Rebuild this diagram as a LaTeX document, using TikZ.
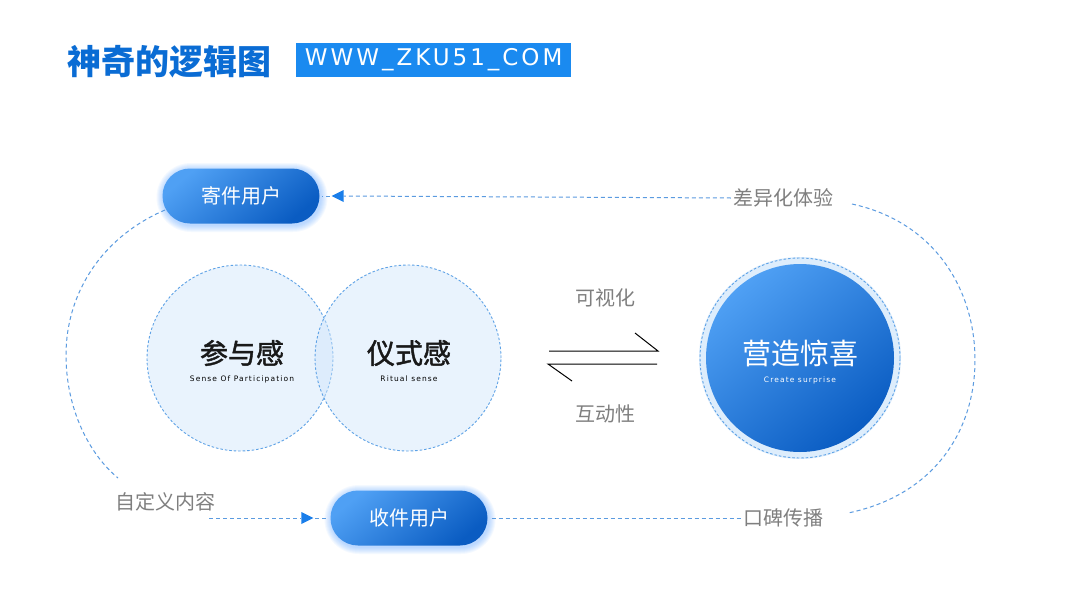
\documentclass[tikz,border=0pt]{standalone}
\usepackage{fontspec}
\newfontfamily\cjk{Noto Sans CJK SC}
\newfontfamily\cjkm[FakeBold=1.6]{Noto Sans CJK SC}
\newfontfamily\urlfont[LetterSpace=13]{DejaVu Sans}
\newfontfamily\latsm[LetterSpace=15]{DejaVu Sans}
\usetikzlibrary{arrows.meta,backgrounds,shapes.misc}
\definecolor{titleblue}{HTML}{0A6CD4}
\definecolor{urlblue}{HTML}{1A8AF0}
\definecolor{dashblue}{HTML}{5B9BE0}
\definecolor{lblgray}{HTML}{7F7F7F}
\definecolor{pilltop}{HTML}{4FA0F4}
\definecolor{pillbot}{HTML}{0A5CC2}
\definecolor{glowc}{HTML}{3C93FF}
\definecolor{arrowblue}{HTML}{1A7EEA}
\definecolor{circfill}{HTML}{CFE5FB}
\definecolor{circline}{HTML}{5EA2E6}
\tikzset{
  pill/.style={rounded rectangle, minimum width=157pt, minimum height=55pt,
    inner sep=0pt, top color=pilltop, bottom color=pillbot, shading angle=40,
    text=white, font=\cjk\fontsize{20}{24}\selectfont},
  glowshape/.style={rounded rectangle, inner sep=0pt, fill=glowc, fill opacity=0.055, draw=none},
  lbl/.style={text=lblgray, font=\cjk\fontsize{20}{24}\selectfont, inner sep=2pt},
  dashln/.style={draw=dashblue, line width=1pt, dash pattern=on 4pt off 3pt},
  ring/.style={circle, draw=circline, line width=0.9pt, dash pattern=on 2.5pt off 2pt,
    fill=circfill, fill opacity=0.45, text opacity=1, minimum size=186pt, inner sep=0pt},
  tipfill/.style={fill=arrowblue}
}
\begin{document}
\begin{tikzpicture}[x=1pt,y=-1pt]
\useasboundingbox (0,0) rectangle (1080,608);

% title
\node[anchor=west, inner sep=0pt, text=titleblue, font=\cjk\bfseries\fontsize{34}{37}\selectfont] (title) at (67,62) {神奇的逻辑图};
\node[anchor=west, fill=urlblue, minimum width=275pt, minimum height=34pt, inner sep=0pt,
  text=white, font=\urlfont\fontsize{23}{26}\selectfont] (url) at (296,60) {WWW\_ZKU51\_COM};

% pills
\node[pill] (send) at (241,196) {寄件用户};
\node[pill] (recv) at (409,518) {收件用户};
\begin{scope}[on background layer]
  \fill[white] (0,0) rectangle (1080,608);
  \foreach \p in {send,recv}{
    \foreach \w in {2,4,...,14}{
      \node[glowshape, minimum width={157pt+\w pt}, minimum height={55pt+\w pt}] at ([xshift=1pt,yshift=-1.5pt]\p.center) {};
    }
  }
\end{scope}

% labels
\node[lbl] (diff) at (783,198) {差异化体验};
\node[lbl] (word) at (783,518) {口碑传播};
\node[lbl] (cust) at (165,502) {自定义内容};
\node[lbl] (vis) at (605,298) {可视化};
\node[lbl] (inter) at (605,414) {互动性};

% circles
\node[ring] (part) at (240,358) {};
\node[ring] (ritu) at (408,358) {};
\node[font=\cjkm\fontsize{28}{30}\selectfont, text=black!90] (partt) at (242,353) {参与感};
\node[font=\latsm\fontsize{7.5}{9}\selectfont, text=black] (parts) at (242,379) {Sense Of Participation};
\node[font=\cjkm\fontsize{28}{30}\selectfont, text=black!90] (rituat) at (409,353) {仪式感};
\node[font=\latsm\fontsize{7.5}{9}\selectfont, text=black] (rituas) at (409,379) {Ritual sense};

% big circle
\fill[circfill!70!white] (800,358) circle (101pt);
\draw[circline, line width=0.9pt, dash pattern=on 2.5pt off 2pt] (800,358) circle (100pt);
\node[circle, minimum size=188pt, inner sep=0pt, top color=pilltop, bottom color=pillbot, shading angle=40] (surp) at (800,358) {};
\node[font=\cjk\fontsize{29}{32}\selectfont, text=white] (surpt) at (800,353) {营造惊喜};
\node[font=\latsm\fontsize{7.5}{9}\selectfont, text=white] (surps) at (800,380) {Create surprise};

% harpoons
\coordinate (h1a) at (549,351); \coordinate (h1b) at (658,351); \coordinate (h1c) at (635,333);
\coordinate (h2a) at (548,364); \coordinate (h2b) at (657,364); \coordinate (h2c) at (572,381);
\draw[black, line width=1pt] (h1a) -- (h1b) -- (h1c);
\draw[black, line width=1pt] (h2b) -- (h2a) -- (h2c);

% connectors
\draw[dashln] (diff.west) -- ([xshift=24pt]send.east);
\fill[tipfill] ([xshift=12pt]send.east) -- ([xshift=24pt,yshift=6pt]send.east) -- ([xshift=24pt,yshift=-6pt]send.east) -- cycle;
\draw[dashln] ([xshift=10pt]send.east) -- ([xshift=2pt]send.east);

\coordinate (cs) at ([xshift=-8pt]cust.east |- recv.west);
\draw[dashln] (cs) -- ([xshift=-29pt]recv.west);
\fill[tipfill] ([xshift=-17pt]recv.west) -- ([xshift=-29pt,yshift=6pt]recv.west) -- ([xshift=-29pt,yshift=-6pt]recv.west) -- cycle;
\draw[dashln] ([xshift=-15pt]recv.west) -- ([xshift=-2pt]recv.west);

\draw[dashln] ([xshift=4pt]recv.east) -- (word.west);

\coordinate (ra) at (852,204);
\coordinate (rb) at (975,360);
\coordinate (rc) at (848,513);
\draw[dashln] (ra) .. controls (935,222) and (975,290) .. (rb) .. controls (975,430) and (935,495) .. (rc);

\coordinate (la) at (165,210);
\coordinate (lb) at (66,355);
\coordinate (lc) at (118,478);
\draw[dashln] (la) .. controls (100,238) and (66,295) .. (lb) .. controls (66,410) and (90,455) .. (lc);
\end{tikzpicture}
\end{document}
